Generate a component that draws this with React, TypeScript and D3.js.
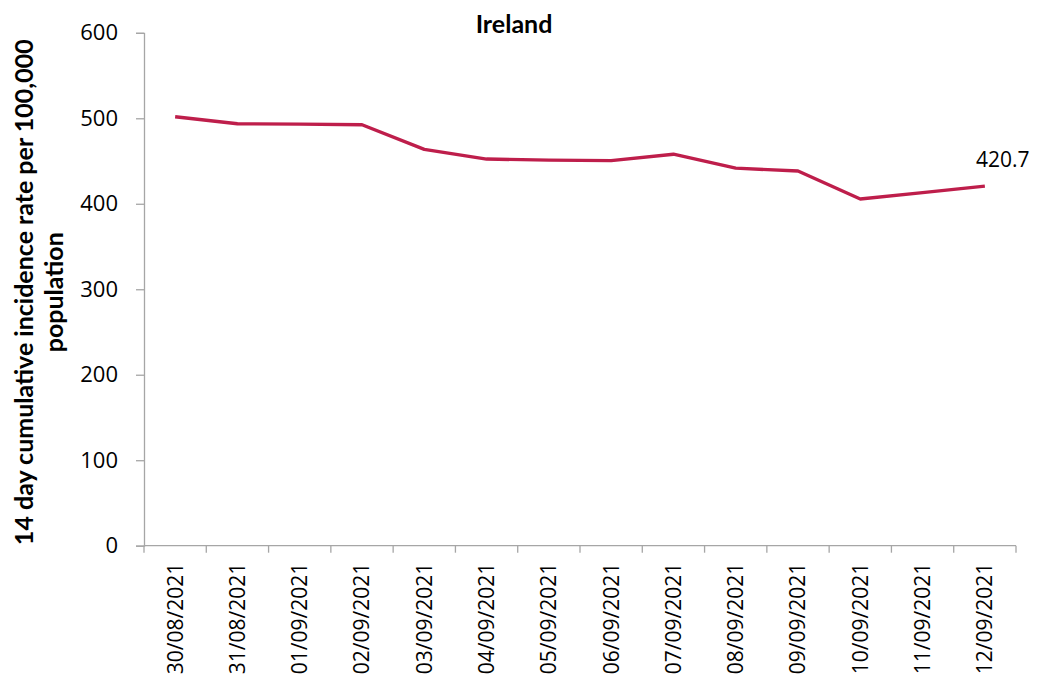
import React, { useEffect, useRef } from 'react';
import * as d3 from 'd3';

const dates = [
  '30/08/2021', '31/08/2021', '01/09/2021', '02/09/2021', '03/09/2021', '04/09/2021', '05/09/2021',
  '06/09/2021', '07/09/2021', '08/09/2021', '09/09/2021', '10/09/2021', '11/09/2021', '12/09/2021',
];
const rates = [501.8, 493.6, 493.2, 492.4, 463.6, 452.3, 451.1, 450.5, 458.0, 441.7, 438.3, 405.5, 413.0, 420.7];
const yTicks = [0, 100, 200, 300, 400, 500, 600];
const title = 'Ireland';
const yTitle = ['14 day cumulative incidence rate per 100,000', 'population'];

const FONT = '"Open Sans", sans-serif';
const BOLDFONT = 'Lato, sans-serif';
const LINE = '#BE1E4B';
const AXIS = '#A6A6A6';

function App() {
  const svgRef = useRef<SVGSVGElement>(null);

  useEffect(() => {
    const svg = d3.select(svgRef.current);
    svg.selectAll('*').remove();

    const left = 144, right = 1016, top = 32.8, bottom = 545.7;

    const x = d3.scaleBand().domain(dates).range([left, right]);
    const y = d3.scaleLinear().domain([0, 600]).range([bottom, top]);

    // y axis
    const yAxis = d3.axisLeft(y).tickValues(yTicks).tickSize(8).tickPadding(18);
    const gy = svg.append('g').attr('transform', `translate(${left},0)`).call(yAxis);
    gy.select('.domain').attr('stroke', AXIS).attr('stroke-width', 1.3);
    gy.selectAll('.tick line').attr('stroke', AXIS).attr('stroke-width', 1.3);
    gy.selectAll('.tick text')
      .attr('fill', '#000')
      .style('font-family', FONT)
      .style('font-size', '22px');

    // x axis: ticks at category boundaries
    const gx = svg.append('g');
    gx.append('line')
      .attr('x1', left).attr('x2', right)
      .attr('y1', bottom).attr('y2', bottom)
      .attr('stroke', AXIS).attr('stroke-width', 1.3);
    const bounds = dates.map((d) => x(d)!).concat([right]);
    gx.selectAll('line.tk')
      .data(bounds)
      .enter()
      .append('line')
      .attr('class', 'tk')
      .attr('x1', (d) => d).attr('x2', (d) => d)
      .attr('y1', bottom).attr('y2', bottom + 7)
      .attr('stroke', AXIS).attr('stroke-width', 1.3);
    gx.selectAll('text')
      .data(dates)
      .enter()
      .append('text')
      .attr('transform', (d) => `translate(${x(d)! + x.bandwidth() / 2},${bottom + 17}) rotate(-90)`)
      .attr('text-anchor', 'end')
      .attr('dy', '0.35em')
      .style('font-family', FONT)
      .style('font-size', '21px')
      .text((d) => d);

    // line
    const line = d3.line<number>()
      .x((_, i) => x(dates[i])! + x.bandwidth() / 2)
      .y((d) => y(d));
    svg.append('path')
      .datum(rates)
      .attr('d', line)
      .attr('fill', 'none')
      .attr('stroke', LINE)
      .attr('stroke-width', 3.4)
      .attr('stroke-linejoin', 'round');

    // last value label
    const last = rates.length - 1;
    svg.append('text')
      .attr('x', x(dates[last])! + x.bandwidth() / 2 + 18)
      .attr('y', y(rates[last]) - 19)
      .attr('text-anchor', 'middle')
      .style('font-family', FONT)
      .style('font-size', '21px')
      .text(rates[last].toFixed(1));

    // title
    svg.append('text')
      .attr('x', 514)
      .attr('y', 33)
      .attr('text-anchor', 'middle')
      .style('font-family', BOLDFONT)
      .style('font-size', '25px')
      .style('font-weight', 'bold')
      .text(title);

    // y title
    const yt = svg.append('text')
      .attr('transform', `translate(33,${(top + bottom) / 2 + 3}) rotate(-90)`)
      .attr('text-anchor', 'middle')
      .style('font-family', BOLDFONT)
      .style('font-size', '25px')
      .style('font-weight', 'bold');
    yTitle.forEach((t, i) => {
      yt.append('tspan')
        .attr('x', 0)
        .attr('dy', i === 0 ? 0 : 30)
        .text(t);
    });
  }, []);

  return (
    <div style={{ position: 'absolute', left: 0, top: 0 }}>
      <svg ref={svgRef} width={1039} height={679} style={{ display: 'block', background: '#fff' }} />
    </div>
  );
}

export default App;
